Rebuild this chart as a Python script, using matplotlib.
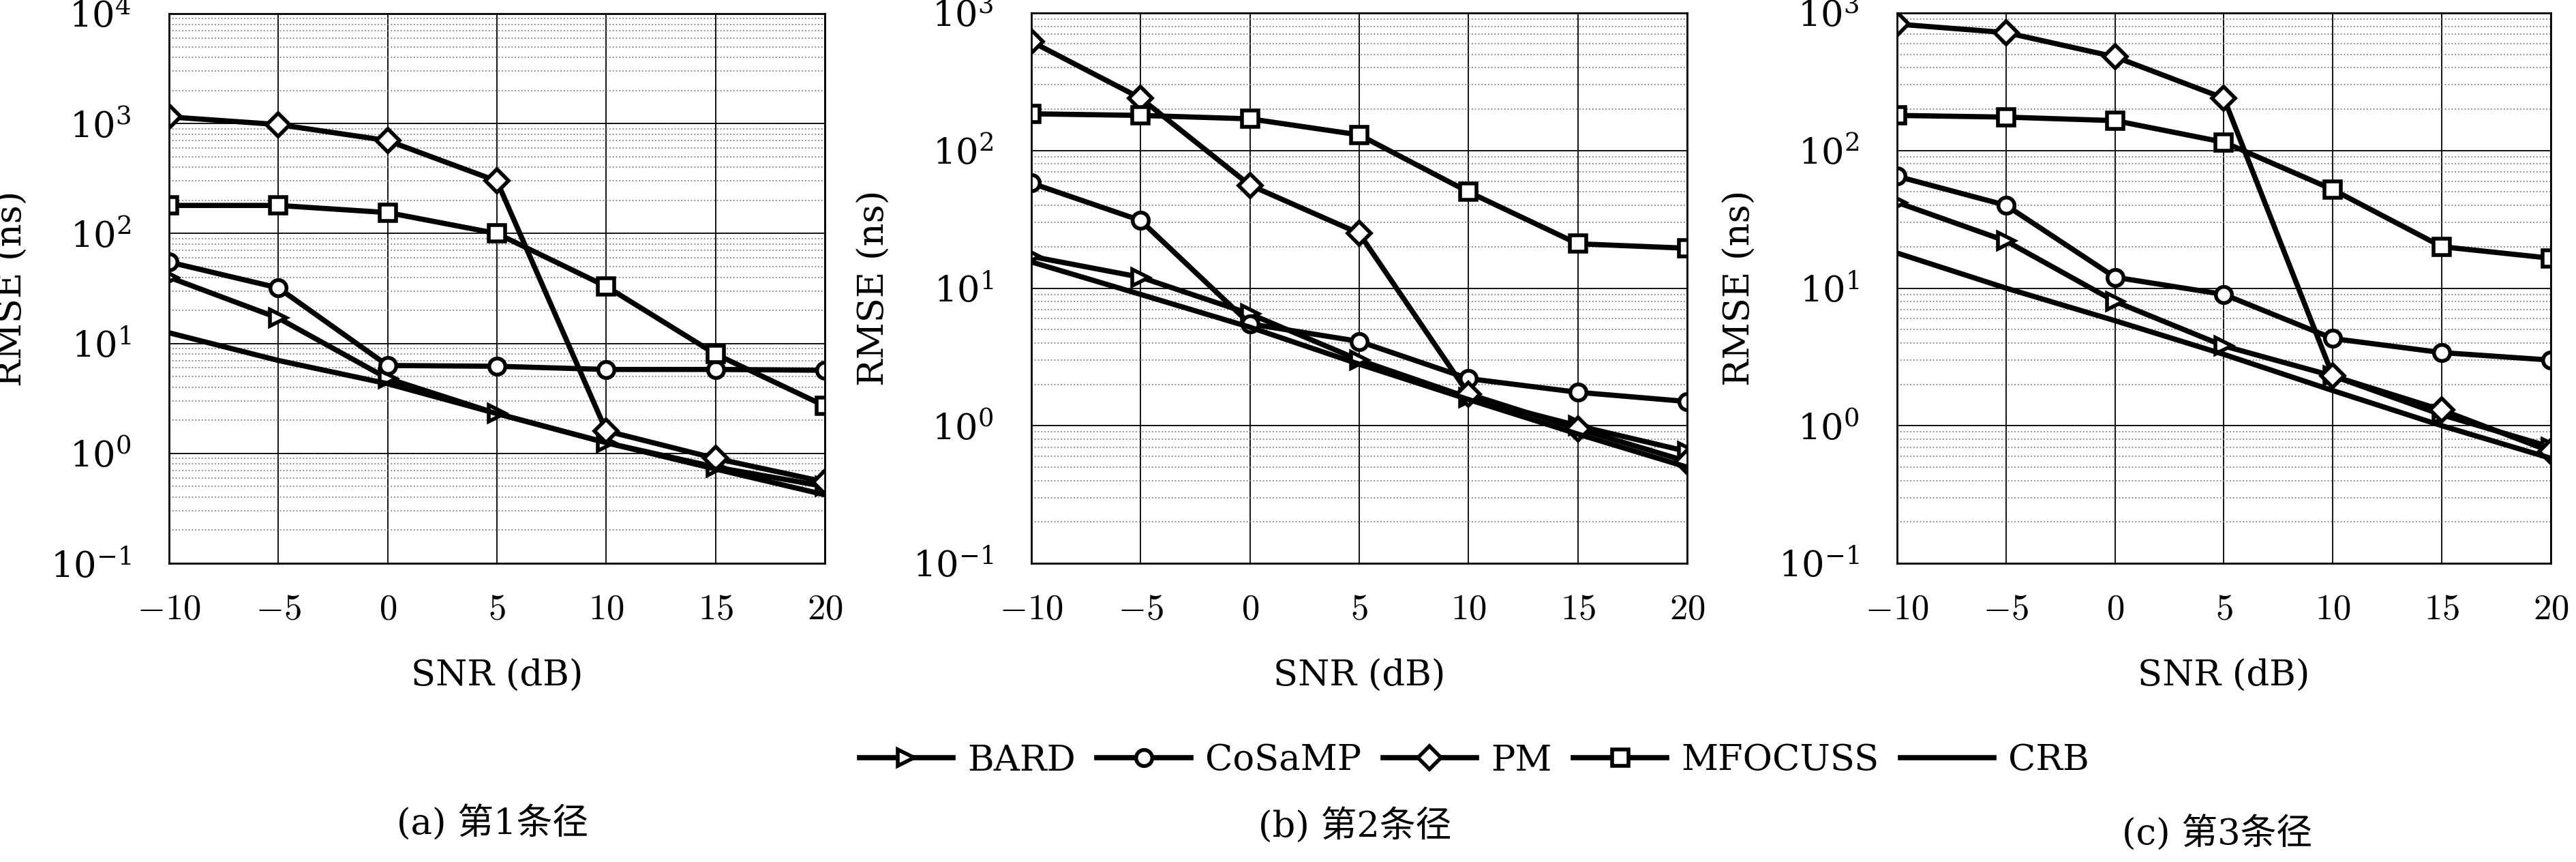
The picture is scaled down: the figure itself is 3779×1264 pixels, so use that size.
import matplotlib
matplotlib.use('Agg')
import matplotlib.pyplot as plt
from matplotlib.lines import Line2D

plt.rcParams['font.family'] = ['DejaVu Serif', 'Noto Sans CJK SC']
plt.rcParams['mathtext.fontset'] = 'cm'

snr = [-10, -5, 0, 5, 10, 15, 20]
methods = ['BARD', 'CoSaMP', 'PM', 'MFOCUSS', 'CRB']
markers = ['>', 'o', 'D', 's', None]
captions = ['(a) 第1条径', '(b) 第2条径', '(c) 第3条径']

# panel (a)
a_bard = [40, 17, 4.8, 2.3, 1.25, 0.75, 0.5]
a_cosamp = [55, 32, 6.3, 6.2, 5.8, 5.8, 5.7]
a_pm = [1150, 980, 700, 300, 1.6, 0.9, 0.55]
a_mfocuss = [180, 180, 155, 100, 33, 8, 2.7]
a_crb = [12.5, 7, 4.3, 2.3, 1.25, 0.72, 0.42]
# panel (b)
b_bard = [17, 12, 6.5, 3, 1.6, 1.0, 0.65]
b_cosamp = [58, 31, 5.5, 4.1, 2.2, 1.75, 1.5]
b_pm = [620, 240, 56, 25, 1.7, 0.95, 0.55]
b_mfocuss = [185, 180, 170, 130, 50, 21, 19.5]
b_crb = [15.5, 9, 5.2, 2.8, 1.55, 0.87, 0.5]
# panel (c)
c_bard = [42, 22, 8, 3.8, 2.3, 1.2, 0.7]
c_cosamp = [65, 40, 12, 9, 4.3, 3.4, 3]
c_pm = [830, 720, 480, 240, 2.3, 1.3, 0.65]
c_mfocuss = [180, 175, 165, 115, 52, 20, 16.5]
c_crb = [18, 10, 5.8, 3.3, 1.8, 1.0, 0.58]

panels = [
    ([a_bard, a_cosamp, a_pm, a_mfocuss, a_crb], 1e4),
    ([b_bard, b_cosamp, b_pm, b_mfocuss, b_crb], 1e3),
    ([c_bard, c_cosamp, c_pm, c_mfocuss, c_crb], 1e3),
]

W, H = 3780, 1264
fig = plt.figure(figsize=(W / 100, H / 100), dpi=100)
fig.patch.set_facecolor('white')

# axes boxes in pixels: left, top, right, bottom
boxes = [(248, 20, 1210, 826), (1513, 19, 2475, 826), (2783, 19, 3742, 826)]
cap_pos = [(723, 1207), (1988, 1211), (3253, 1222)]

fs = 38
for i, ((series, ytop), (l, t, r, b)) in enumerate(zip(panels, boxes)):
    ax = fig.add_axes([l / W, 1 - b / H, (r - l) / W, (b - t) / H])
    for vals, m in zip(series, markers):
        ax.plot(snr, vals, color='black', lw=5.5, marker=m, markersize=17,
                markerfacecolor='white', markeredgewidth=4)
    ax.set_yscale('log')
    ax.set_ylim(0.1, ytop)
    ax.set_xlim(-10, 20)
    ax.set_xticks(snr)
    ax.set_xticklabels([r'$%d$' % v if v >= 0 else r'$-%d$' % -v for v in snr])
    ax.grid(True, which='major', color='black', lw=1.3)
    ax.grid(True, which='minor', color='gray', lw=1.3, ls=':')
    ax.tick_params(labelsize=fs, direction='in', length=0, which='both')
    ax.tick_params(axis='x', pad=30)
    ax.tick_params(axis='y', pad=40)
    ax.set_xlabel('SNR (dB)', fontsize=fs, labelpad=34)
    ax.set_ylabel('RMSE (ns)', fontsize=fs, labelpad=22)
    for s in ax.spines.values():
        s.set_linewidth(2)
    fig.text(cap_pos[i][0] / W, 1 - cap_pos[i][1] / H, captions[i], fontsize=fs,
             ha='center', va='center')

handles = [Line2D([], [], color='black', lw=5.5, marker=m, markersize=17,
                  markerfacecolor='white', markeredgewidth=4) for m in markers]
fig.legend(handles, methods, loc='center', bbox_to_anchor=(2163 / W, 1 - 1115 / H),
           ncol=5, frameon=False, fontsize=fs, handlelength=2.6,
           handletextpad=0.4, columnspacing=0.6)

fig.savefig('out.png', dpi=100, facecolor='white')
